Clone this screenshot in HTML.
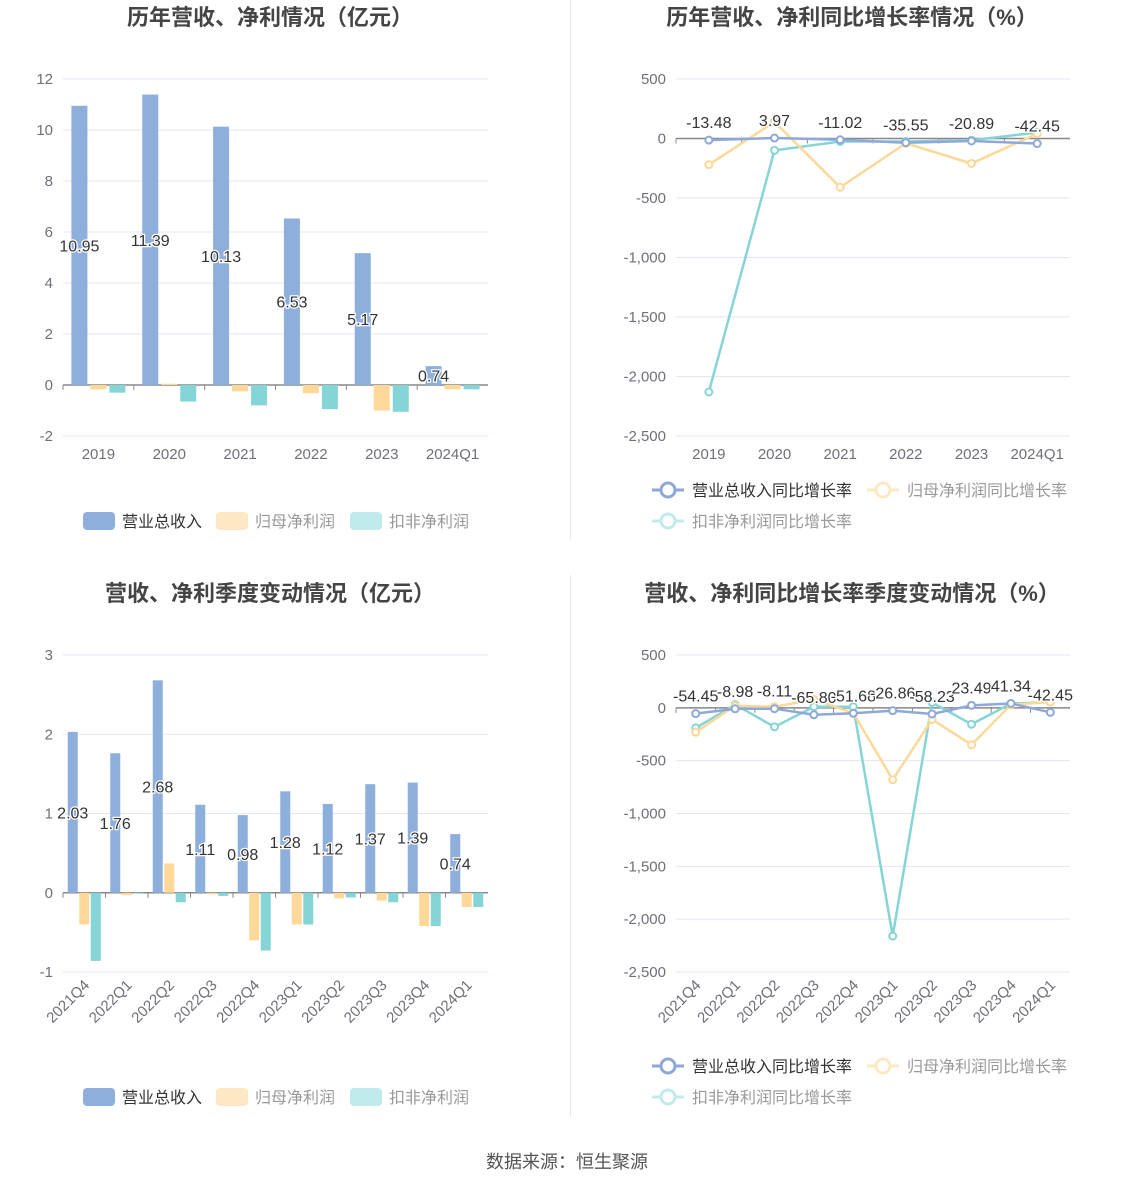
<!DOCTYPE html>
<html><head><meta charset="utf-8">
<style>
html,body{margin:0;padding:0;background:#fff;}
body{width:1134px;height:1188px;overflow:hidden;font-family:"Liberation Sans","Noto Sans CJK SC",sans-serif;}
svg text{font-family:"Liberation Sans","Noto Sans CJK SC",sans-serif;}
</style></head>
<body>
<svg id="root" width="1134" height="1188" xmlns="http://www.w3.org/2000/svg">
<line x1="570.5" y1="0" x2="570.5" y2="540" stroke="#e8e8e8"/>
<line x1="570.5" y1="575" x2="570.5" y2="1117" stroke="#e8e8e8"/>
<text x="270" y="25" text-anchor="middle" font-size="22" font-weight="bold" fill="#444">历年营收、净利情况（亿元）</text>
<text x="852" y="25" text-anchor="middle" font-size="22" font-weight="bold" fill="#444">历年营收、净利同比增长率情况（%）</text>
<text x="270" y="601" text-anchor="middle" font-size="22" font-weight="bold" fill="#444">营收、净利季度变动情况（亿元）</text>
<text x="852" y="601" text-anchor="middle" font-size="22" font-weight="bold" fill="#444">营收、净利同比增长率季度变动情况（%）</text>
<text x="567" y="1168" text-anchor="middle" font-size="18" fill="#555">数据来源：恒生聚源</text>
</svg>
<script>
// ---- data ----
const yearCats = ["2019","2020","2021","2022","2023","2024Q1"];
const yearRevenue = [10.95,11.39,10.13,6.53,5.17,0.74];
const yearNet = [-0.17,0.05,-0.25,-0.32,-1.0,-0.17];
const yearDeducted = [-0.3,-0.65,-0.8,-0.95,-1.05,-0.17];
const yearTicks = [12,10,8,6,4,2,0,-2];
const yearRevGrowth = [-13.48,3.97,-11.02,-35.55,-20.89,-42.45];
const yearNetGrowth = [-220,140,-410,-40,-210,40];
const yearDedGrowth = [-2130,-100,-25,-25,-15,50];
const growthTicks = [500,0,-500,-1000,-1500,-2000,-2500];
const growthTickLabels = ["500","0","-500","-1,000","-1,500","-2,000","-2,500"];
const qCats = ["2021Q4","2022Q1","2022Q2","2022Q3","2022Q4","2023Q1","2023Q2","2023Q3","2023Q4","2024Q1"];
const qRevenue = [2.03,1.76,2.68,1.11,0.98,1.28,1.12,1.37,1.39,0.74];
const qNet = [-0.4,-0.03,0.37,-0.02,-0.6,-0.4,-0.07,-0.1,-0.42,-0.18];
const qDeducted = [-0.86,-0.01,-0.12,-0.04,-0.73,-0.4,-0.06,-0.12,-0.42,-0.18];
const qTicks = [3,2,1,0,-1];
const qRevGrowth = [-54.45,-8.98,-8.11,-65.80,-51.68,-26.86,-58.23,23.49,41.34,-42.45];
const qNetGrowth = [-230,20,10,80,-50,-680,-110,-350,30,55];
const qDedGrowth = [-190,30,-180,10,10,-2160,50,-155,40,55];

const NS="http://www.w3.org/2000/svg";
const root=document.getElementById('root');
function mk(tag,attrs,parent){const e=document.createElementNS(NS,tag);for(const k in attrs)e.setAttribute(k,attrs[k]);(parent||root).appendChild(e);return e;}
const C={blue:"#8eaedc",orange:"#fdd898",teal:"#85d5d7",grid:"#e3e7f1",axis:"#6e7079"};

function frame(g,x0,x1,yTop,yBot,ticks,labels,n,cats,rot){
  const ymax=ticks[0],ymin=ticks[ticks.length-1];
  const y=v=>yTop+(ymax-v)/(ymax-ymin)*(yBot-yTop);
  ticks.forEach((t,i)=>{
    const l=mk('line',{x1:x0,x2:x1,y1:y(t),y2:y(t),stroke:t===0?"#888":C.grid,'stroke-width':t===0?1.5:1},g);
    
    
    const tx=mk('text',{x:x0-10,y:y(t)+5,'text-anchor':'end','font-size':15,fill:C.axis},g);
    
    
    tx.textContent=labels?labels[i]:String(t);
  });
  const bw=(x1-x0)/n;
  const cx=i=>x0+bw*(i+0.5);
  cats.forEach((c,i)=>{
    const tk=mk('line',{x1:x0+bw*i,x2:x0+bw*i,y1:y(0),y2:y(0)+5,stroke:"#888"},g);
    
    
    let t;
    if(rot){
      t=mk('text',{x:cx(i)+6,y:yBot+14,'text-anchor':'end','font-size':15,fill:C.axis,transform:`rotate(-45 ${cx(i)+6} ${yBot+14})`},g);
    } else {
      t=mk('text',{x:cx(i),y:yBot+23,'text-anchor':'middle','font-size':15,fill:C.axis},g);
    }
    
    
    t.textContent=c;
  });
  return {y,cx,bw};
}

function barChart(name,x0,x1,yTop,yBot,ticks,cats,s1,s2,s3,bwid,gap,rot,legY){
  const g=mk('g',{});
  
  
  const f=frame(g,x0,x1,yTop,yBot,ticks,null,cats.length,cats,rot);
  const series=[[s1,C.blue,'revenue'],[s2,C.orange,'net-profit'],[s3,C.teal,'deducted-profit']];
  series.forEach(([arr,col,nm],si)=>{
    arr.forEach((v,i)=>{
      const x=f.cx(i)+(si-1)*(bwid+gap)-bwid/2;
      const y0=f.y(0),yv=f.y(v);
      const r=mk('rect',{x:x,y:Math.min(y0,yv),width:bwid,height:Math.max(Math.abs(yv-y0),0.5),fill:col},g);
      
      
    });
  });
  s1.forEach((v,i)=>{
    const x=f.cx(i)-(bwid+gap);
    const t=mk('text',{x:x,y:(f.y(0)+f.y(v))/2+6,'text-anchor':'middle','font-size':16,fill:"#333",stroke:"#fff",'stroke-width':2.5,'paint-order':'stroke'},g);
    
    
    t.textContent=v.toFixed(2);
  });
  const leg=[["营业总收入",83,C.blue,"#333"],["归母净利润",216,"#fee8c4","#999"],["扣非净利润",350,"#c0ebeb","#999"]];
  leg.forEach(([lab,lx,col,tc])=>{
    const lg=mk('g',{},g);
    
    
    mk('rect',{x:lx,y:legY-9,width:32,height:18,rx:4,fill:col},lg);
    const t=mk('text',{x:lx+39,y:legY+6,'font-size':16,fill:tc},lg);
    t.textContent=lab;
  });
}

function lineChart(name,x0,x1,yTop,yBot,cats,s1,s2,s3,rot,legY){
  const g=mk('g',{});
  
  
  const f=frame(g,x0,x1,yTop,yBot,growthTicks,growthTickLabels,cats.length,cats,rot);
  const series=[[s3,C.teal,'deducted-growth'],[s2,C.orange,'net-growth'],[s1,"#8ea8da",'revenue-growth']];
  series.forEach(([arr,col,nm])=>{
    const pts=arr.map((v,i)=>f.cx(i)+','+f.y(v)).join(' ');
    const pl=mk('polyline',{points:pts,fill:'none',stroke:col,'stroke-width':2.5},g);
    
    
    arr.forEach((v,i)=>{
      const c=mk('circle',{cx:f.cx(i),cy:f.y(v),r:3.5,fill:'#fff',stroke:col,'stroke-width':2},g);
      
      
    });
  });
  s1.forEach((v,i)=>{
    const t=mk('text',{x:f.cx(i),y:f.y(v)-12,'text-anchor':'middle','font-size':16,fill:"#333",stroke:"#fff",'stroke-width':2.5,'paint-order':'stroke'},g);
    
    
    t.textContent=v.toFixed(2);
  });
  const leg=[["营业总收入同比增长率",652,legY,"#8ea8da","#333"],["归母净利润同比增长率",867,legY,"#fee8c4","#999"],["扣非净利润同比增长率",652,legY+31,"#c0ebeb","#999"]];
  leg.forEach(([lab,lx,ly,col,tc])=>{
    const lg=mk('g',{},g);
    
    
    mk('line',{x1:lx,x2:lx+32,y1:ly,y2:ly,stroke:col,'stroke-width':3},lg);
    mk('circle',{cx:lx+16,cy:ly,r:7,fill:'#fff',stroke:col,'stroke-width':3},lg);
    const t=mk('text',{x:lx+40,y:ly+6,'font-size':16,fill:tc},lg);
    t.textContent=lab;
  });
}

barChart('annual-revenue-chart',63,488,79,436,yearTicks,yearCats,yearRevenue,yearNet,yearDeducted,16,3,false,521);
lineChart('annual-growth-chart',676,1070,79,436,yearCats,yearRevGrowth,yearNetGrowth,yearDedGrowth,false,490);
barChart('quarterly-revenue-chart',63,488,655,972,qTicks,qCats,qRevenue,qNet,qDeducted,10,1.5,true,1097);
lineChart('quarterly-growth-chart',676,1070,655,972,qCats,qRevGrowth,qNetGrowth,qDedGrowth,true,1066);
</script>
</body></html>
